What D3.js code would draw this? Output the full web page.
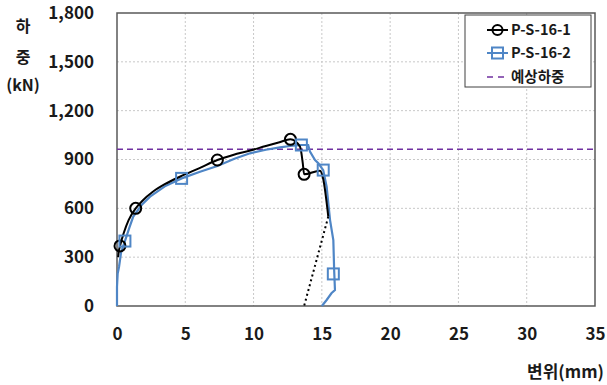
<!DOCTYPE html>
<html>
<head>
<meta charset="utf-8">
<script src="https://cdn.jsdelivr.net/npm/d3@7"></script>
<style>
  body { margin: 0; background: #fff; }
  text { font-family: "Noto Sans CJK KR", "Noto Sans", sans-serif; font-weight: bold; fill: #1a1a1a; }
</style>
</head>
<body>
<figure id="chart" style="margin:0"></figure>
<script>
// P-S-16-1 (black, circles)
const s1X = [0.08, 0.12, 0.22, 0.5, 0.85, 1.37, 1.9, 2.6, 3.5, 4.6, 6.0, 7.35, 8.5, 9.7, 10.9, 11.9, 12.7, 13.4, 13.6, 13.7, 14.86, 15.1, 15.47];
const s1Y = [300, 330, 369, 450, 528, 600, 650, 700, 748, 794, 846, 897, 928, 954, 983, 1006, 1024, 979, 880, 809, 831, 780, 549];
const s1MarkX = [0.22, 1.37, 7.35, 12.7, 13.7];
const s1MarkY = [369, 600, 897, 1024, 809];

// unloading line (black dotted)
const unloadX = [15.47, 13.7];
const unloadY = [549, 0];

// P-S-16-2 (blue, squares)
const s2X = [0, 0, 0.05, 0.15, 0.3, 0.58, 0.9, 1.19, 1.8, 2.42, 3.5, 4.73, 6.08, 7.35, 8.6, 9.74, 10.9, 11.93, 12.67, 13.5, 14.0, 14.13, 14.5, 14.74, 15.1, 15.35, 15.6, 15.84, 15.9, 15.96, 15.7, 15.35, 15.0];
const s2Y = [0, 118, 200, 241, 330, 399, 480, 549, 620, 672, 735, 784, 825, 860, 905, 938, 960, 975, 983, 989, 989, 948, 897, 877, 835, 733, 528, 405, 221, 98, 78, 37, 0];
const s2MarkX = [0.58, 4.73, 13.5, 15.1, 15.84];
const s2MarkY = [399, 784, 989, 835, 197];

const expectedLoad = 963;
const xTicks = [0, 5, 10, 15, 20, 25, 30, 35];
const yTicks = [0, 300, 600, 900, 1200, 1500, 1800];
const legendLabels = ["P-S-16-1", "P-S-16-2", "예상하중"];

const W = 607, H = 385;
const plot = { left: 117, right: 595, top: 13, bottom: 306 };

const svg = d3.select("#chart").append("svg")
  .attr("width", W).attr("height", H);

const x = d3.scaleLinear().domain([0, 35]).range([plot.left, plot.right]);
const y = d3.scaleLinear().domain([0, 1800]).range([plot.bottom, plot.top]);

// grid lines
svg.append("g").selectAll("line")
  .data(xTicks.slice(1, -1)).enter().append("line")
  .attr("x1", d => x(d)).attr("x2", d => x(d))
  .attr("y1", plot.top).attr("y2", plot.bottom)
  .attr("stroke", "#c8c8c8").attr("stroke-dasharray", "2,2");
svg.append("g").selectAll("line")
  .data(yTicks.slice(1, -1)).enter().append("line")
  .attr("y1", d => y(d)).attr("y2", d => y(d))
  .attr("x1", plot.left).attr("x2", plot.right)
  .attr("stroke", "#c8c8c8").attr("stroke-dasharray", "2,2");

// axes
const xAxis = svg.append("g")
  .attr("transform", "translate(0," + plot.bottom + ")")
  .call(d3.axisBottom(x).tickValues(xTicks).tickSize(0).tickPadding(22));
xAxis.select(".domain").remove();
xAxis.selectAll("text").style("font-size", "17px").attr("fill", "#1a1a1a");

const yAxis = svg.append("g")
  .attr("transform", "translate(" + plot.left + ",0)")
  .call(d3.axisLeft(y).tickValues(yTicks).tickSize(0).tickPadding(23).tickFormat(d3.format(",")));
yAxis.select(".domain").remove();
yAxis.selectAll("text").style("font-size", "17px").attr("fill", "#1a1a1a");

// frame
svg.append("rect")
  .attr("x", plot.left).attr("y", plot.top)
  .attr("width", plot.right - plot.left).attr("height", plot.bottom - plot.top)
  .attr("fill", "none").attr("stroke", "#595959").attr("stroke-width", 1.5);

// expected load
svg.append("line")
  .attr("x1", plot.left).attr("x2", plot.right)
  .attr("y1", y(expectedLoad)).attr("y2", y(expectedLoad))
  .attr("stroke", "#7030a0").attr("stroke-width", 1.5).attr("stroke-dasharray", "6,4");

const line = d3.line().x(d => x(d[0])).y(d => y(d[1]));

// blue series
svg.append("path")
  .datum(d3.zip(s2X, s2Y))
  .attr("d", line)
  .attr("fill", "none").attr("stroke", "#4f86c6").attr("stroke-width", 2.2);

// black series
svg.append("path")
  .datum(d3.zip(s1X, s1Y))
  .attr("d", line.curve(d3.curveMonotoneX))
  .attr("fill", "none").attr("stroke", "#000").attr("stroke-width", 2);
line.curve(d3.curveLinear);

svg.append("path")
  .datum(d3.zip(unloadX, unloadY))
  .attr("d", line)
  .attr("fill", "none").attr("stroke", "#000").attr("stroke-width", 2).attr("stroke-dasharray", "2,3");

// markers
svg.append("g").selectAll("circle")
  .data(d3.zip(s1MarkX, s1MarkY)).enter().append("circle")
  .attr("cx", d => x(d[0])).attr("cy", d => y(d[1])).attr("r", 5.5)
  .attr("fill", "none").attr("stroke", "#000").attr("stroke-width", 2);

svg.append("g").selectAll("rect")
  .data(d3.zip(s2MarkX, s2MarkY)).enter().append("rect")
  .attr("x", d => x(d[0]) - 5.5).attr("y", d => y(d[1]) - 5.5)
  .attr("width", 11).attr("height", 11)
  .attr("fill", "none").attr("stroke", "#4f86c6").attr("stroke-width", 2);

// legend
const lg = svg.append("g").attr("transform", "translate(465,15)");
lg.append("rect").attr("width", 126).attr("height", 72)
  .attr("fill", "#fff").attr("stroke", "#404040").attr("stroke-width", 1);
const rowY = [15, 38, 62];
lg.append("line").attr("x1", 22).attr("x2", 43).attr("y1", rowY[0]).attr("y2", rowY[0]).attr("stroke", "#000").attr("stroke-width", 2);
lg.append("circle").attr("cx", 32.5).attr("cy", rowY[0]).attr("r", 5).attr("fill", "none").attr("stroke", "#000").attr("stroke-width", 2);
lg.append("line").attr("x1", 22).attr("x2", 43).attr("y1", rowY[1]).attr("y2", rowY[1]).attr("stroke", "#4f86c6").attr("stroke-width", 2);
lg.append("rect").attr("x", 27).attr("y", rowY[1] - 5.5).attr("width", 11).attr("height", 11).attr("fill", "none").attr("stroke", "#4f86c6").attr("stroke-width", 2);
lg.append("line").attr("x1", 22).attr("x2", 43).attr("y1", rowY[2]).attr("y2", rowY[2]).attr("stroke", "#7030a0").attr("stroke-width", 1.5).attr("stroke-dasharray", "6,5");
lg.selectAll("text.lab").data(legendLabels).enter().append("text")
  .attr("class", "lab")
  .attr("x", 46).attr("y", (d, i) => rowY[i])
  .attr("dy", "0.35em")
  .style("font-size", "14.5px")
  .text(d => d);

// axis titles
svg.append("text").attr("x", 604).attr("y", 372).attr("dy", "0.35em")
  .attr("text-anchor", "end").style("font-size", "17px").text("변위(mm)");
const yTitle = ["하", "중", "(kN)"];
svg.selectAll("text.yt").data(yTitle).enter().append("text")
  .attr("class", "yt")
  .attr("x", 23).attr("y", (d, i) => [26, 57, 85][i]).attr("dy", "0.35em")
  .attr("text-anchor", "middle").style("font-size", "16px").text(d => d);
</script>
</body>
</html>
